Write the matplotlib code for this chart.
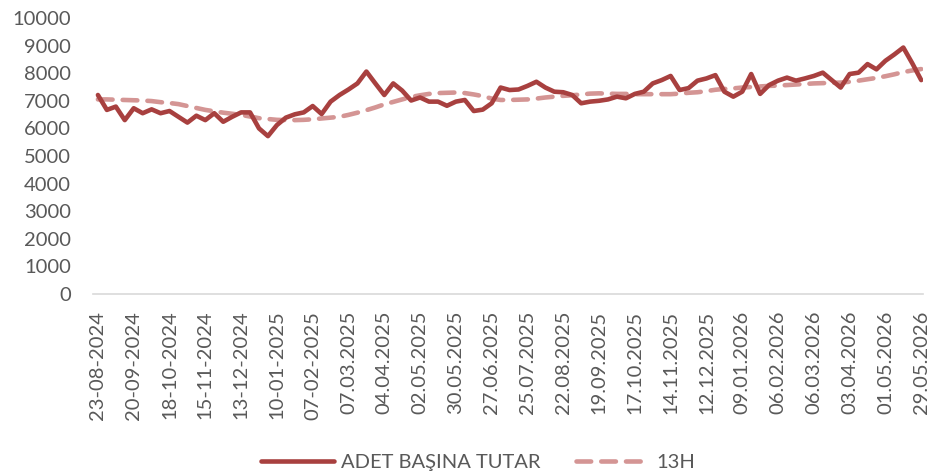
import matplotlib
matplotlib.use('Agg')
import matplotlib.pyplot as plt

# weekly values, 23-08-2024 .. 29-05-2026
adet_basina_tutar = [
    7210, 6670, 6790, 6300, 6730, 6550, 6690, 6550, 6630, 6420,
    6210, 6460, 6300, 6550, 6240, 6420, 6580, 6580, 6000, 5720,
    6120, 6390, 6510, 6580, 6810, 6520, 6970, 7210, 7410, 7630,
    8060, 7630, 7210, 7630, 7370, 7010, 7120, 6970, 6970, 6820,
    6970, 7030, 6630, 6680, 6910, 7480, 7390, 7410, 7540, 7690,
    7480, 7330, 7310, 7210, 6910, 6970, 7000, 7050, 7150, 7090,
    7250, 7330, 7630, 7750, 7900, 7390, 7460, 7730, 7810, 7930,
    7330, 7150, 7330, 7970, 7250, 7570, 7730, 7840, 7730, 7810,
    7900, 8020, 7750, 7480, 7970, 8020, 8330, 8140, 8450, 8680,
    8930, 8360, 7750,
]

h13 = [
    7050, 7050, 7040, 7030, 7020, 7010, 6990, 6950, 6920, 6880,
    6810, 6740, 6670, 6620, 6570, 6530, 6490, 6430, 6370, 6340,
    6310, 6300, 6300, 6310, 6330, 6360, 6390, 6420, 6490, 6570,
    6660, 6760, 6870, 6960, 7050, 7140, 7200, 7250, 7280, 7290,
    7300, 7280, 7230, 7170, 7080, 7030, 7030, 7040, 7050, 7080,
    7120, 7150, 7180, 7200, 7230, 7260, 7270, 7260, 7250, 7250,
    7240, 7240, 7240, 7240, 7240, 7260, 7290, 7310, 7350, 7400,
    7430, 7450, 7480, 7500, 7520, 7540, 7550, 7570, 7590, 7610,
    7630, 7640, 7650, 7660, 7690, 7730, 7780, 7830, 7890, 7960,
    8040, 8100, 8150,
]

tick_labels = [
    '23-08-2024', '20-09-2024', '18-10-2024', '15-11-2024', '13-12-2024',
    '10-01-2025', '07-02-2025', '07.03.2025', '04.04.2025', '02.05.2025',
    '30.05.2025', '27.06.2025', '25.07.2025', '22.08.2025', '19.09.2025',
    '17.10.2025', '14.11.2025', '12.12.2025', '09.01.2026', '06.02.2026',
    '06.03.2026', '03.04.2026', '01.05.2026', '29.05.2026',
]

plt.rcParams['font.family'] = ['Lato', 'DejaVu Sans']
gray = '#595959'

fig = plt.figure(figsize=(9.32, 4.75), dpi=100)
ax = fig.add_axes([93 / 932, 1 - 294 / 475, 830 / 932, 276 / 475])

x = list(range(len(adet_basina_tutar)))
ax.plot(x, adet_basina_tutar, color='#A8403F', lw=3.3, solid_joinstyle='round',
        solid_capstyle='round', label='ADET BAŞINA TUTAR', zorder=3)
ax.plot(x, h13, color='#D49594', lw=3.3, dashes=(3.2, 2.2), dash_capstyle='round',
        label='13H', zorder=2)

ax.set_xlim(-0.55, len(x) - 1 + 0.2)
ax.set_ylim(0, 10000)
ax.set_yticks(range(0, 10001, 1000))
ax.set_xticks(range(0, len(x), 4))
ax.set_xticklabels(tick_labels, rotation=90)

for s in ['top', 'right', 'left']:
    ax.spines[s].set_visible(False)
ax.spines['bottom'].set_color('#D9D9D9')
ax.spines['bottom'].set_linewidth(1.2)
ax.tick_params(axis='both', length=0, labelsize=14.5, colors=gray)
ax.tick_params(axis='y', pad=16)
ax.tick_params(axis='x', pad=12)

fig.legend(loc='center', bbox_to_anchor=(478 / 932, 1 - 462 / 475), ncol=2,
           frameon=False, fontsize=14.5, labelcolor=gray, handlelength=3.6,
           handletextpad=0.35, columnspacing=1.8)

plt.savefig('out.png', dpi=100)
